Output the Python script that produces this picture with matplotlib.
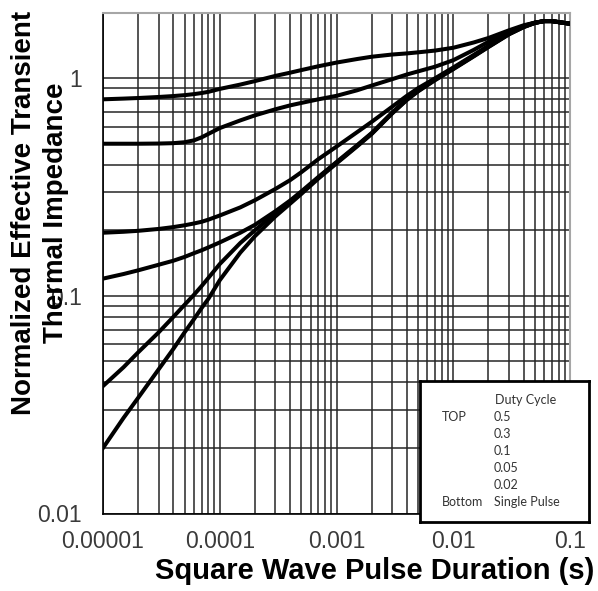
import numpy as np
import matplotlib
matplotlib.use('Agg')
import matplotlib.pyplot as plt
from matplotlib.ticker import LogLocator, NullFormatter

# 数值 (对数坐标)
pulse_t = [1e-5, 1.5e-5, 2e-5, 3e-5, 4e-5, 5e-5, 6e-5, 7e-5, 8e-5, 1e-4,
           1.5e-4, 2e-4, 3e-4, 4e-4, 5e-4, 7e-4, 1e-3, 1.5e-3, 2e-3, 3e-3,
           4e-3, 5e-3, 7e-3, 1e-2, 1.5e-2, 2e-2, 3e-2, 4e-2, 5e-2, 6e-2,
           7e-2, 8e-2, 1e-1]

zth_d05 = [0.800, 0.806, 0.811, 0.820, 0.828, 0.836, 0.845, 0.855, 0.866, 0.893,
           0.935, 0.970, 1.025, 1.060, 1.090, 1.135, 1.180, 1.225, 1.255, 1.285,
           1.300, 1.315, 1.340, 1.380, 1.460, 1.530, 1.660, 1.750, 1.800, 1.830,
           1.830, 1.810, 1.780]
zth_d03 = [0.500, 0.500, 0.500, 0.501, 0.503, 0.508, 0.518, 0.535, 0.555, 0.590,
           0.640, 0.675, 0.720, 0.750, 0.770, 0.800, 0.830, 0.880, 0.925, 0.990,
           1.040, 1.075, 1.130, 1.210, 1.350, 1.470, 1.630, 1.740, 1.800, 1.830,
           1.830, 1.810, 1.780]
zth_d01 = [0.195, 0.197, 0.199, 0.203, 0.207, 0.211, 0.215, 0.219, 0.224, 0.234,
           0.255, 0.275, 0.310, 0.340, 0.370, 0.425, 0.485, 0.565, 0.630, 0.740,
           0.830, 0.900, 1.000, 1.120, 1.280, 1.410, 1.610, 1.730, 1.800, 1.830,
           1.830, 1.810, 1.780]
zth_d005 = [0.120, 0.126, 0.131, 0.139, 0.145, 0.151, 0.157, 0.162, 0.167, 0.176,
            0.195, 0.212, 0.245, 0.274, 0.302, 0.352, 0.412, 0.492, 0.560, 0.695,
            0.800, 0.880, 0.990, 1.110, 1.270, 1.400, 1.600, 1.720, 1.795, 1.830,
            1.830, 1.810, 1.780]
zth_d002 = [0.0385, 0.047, 0.055, 0.068, 0.080, 0.091, 0.101, 0.111, 0.121, 0.140,
            0.175, 0.200, 0.240, 0.270, 0.298, 0.349, 0.409, 0.489, 0.557, 0.692,
            0.797, 0.875, 0.985, 1.105, 1.265, 1.395, 1.595, 1.720, 1.795, 1.830,
            1.830, 1.810, 1.780]
zth_single = [0.020, 0.0275, 0.034, 0.046, 0.057, 0.068, 0.078, 0.088, 0.097, 0.118,
              0.158, 0.188, 0.232, 0.265, 0.294, 0.346, 0.406, 0.486, 0.554, 0.689,
              0.794, 0.870, 0.980, 1.100, 1.260, 1.390, 1.590, 1.715, 1.795, 1.830,
              1.830, 1.810, 1.780]
curves = [zth_d05, zth_d03, zth_d01, zth_d005, zth_d002, zth_single]

x_ticks = [1e-5, 1e-4, 1e-3, 1e-2, 1e-1]
x_labels = ['0.00001', '0.0001', '0.001', '0.01', '0.1']
y_ticks = [0.01, 0.1, 1]
y_labels = ['0.01', '0.1', '1']

legend_head = 'Duty Cycle'
legend_left = ['TOP', '', '', '', '', 'Bottom']
legend_right = ['0.5', '0.3', '0.1', '0.05', '0.02', 'Single Pulse']

W, H = 598, 591
plt.rcParams['font.family'] = ['Liberation Sans', 'DejaVu Sans']

fig = plt.figure(figsize=(W / 100, H / 100), dpi=100)
ax = fig.add_axes([103 / W, 1 - 513.5 / H, 467 / W, 500.8 / H])

for z in curves:
    ax.plot(pulse_t, z, color='black', lw=2.9, solid_joinstyle='round', zorder=3)

ax.set_xscale('log')
ax.set_yscale('log')
ax.set_xlim(1e-5, 0.1)
ax.set_ylim(0.01, 2)

ax.set_xticks(x_ticks, x_labels)
ax.set_yticks(y_ticks, y_labels)
ax.xaxis.set_minor_locator(LogLocator(10, subs=np.arange(2, 10), numticks=50))
ax.yaxis.set_minor_locator(LogLocator(10, subs=np.arange(2, 10), numticks=50))
ax.xaxis.set_minor_formatter(NullFormatter())
ax.yaxis.set_minor_formatter(NullFormatter())
ax.grid(which='both', color='#262626', lw=1.1)
ax.tick_params(which='both', length=0, labelsize=16.5, labelcolor='#3a3a3a')
ax.tick_params(axis='x', pad=12)
ax.tick_params(axis='y', pad=15)

for s in ['top', 'right']:
    ax.spines[s].set_color('#a6a6a6')
    ax.spines[s].set_linewidth(1.5)
for s in ['left', 'bottom']:
    ax.spines[s].set_color('black')
    ax.spines[s].set_linewidth(1.2)

# 坐标轴标题
fig.text(40 / W, 1 - 213 / H, 'Normalized Effective Transient\nThermal Impedance',
         rotation=90, ha='center', va='center', multialignment='center',
         fontsize=20, fontweight='bold', linespacing=1.3)
fig.text(375 / W, 1 - 571 / H, 'Square Wave Pulse Duration (s)',
         ha='center', va='center', fontsize=21, fontweight='bold')

# 图例方框
lax = fig.add_axes([420 / W, 1 - 522 / H, 169 / W, 141 / H])
lax.set_xticks([])
lax.set_yticks([])
for s in lax.spines.values():
    s.set_linewidth(2)
    s.set_color('black')

fig.text(495 / W, 1 - 400 / H, legend_head, ha='left', va='center',
         fontsize=9, color='#333333', family=['Lato', 'DejaVu Sans'])
for i, (l, r) in enumerate(zip(legend_left, legend_right)):
    yy = 1 - (417 + 17 * i) / H
    fig.text(442 / W, yy, l, ha='left', va='center', fontsize=9,
             color='#333333', family=['Lato', 'DejaVu Sans'])
    fig.text(494 / W, yy, r, ha='left', va='center', fontsize=9,
             color='#333333', family=['Lato', 'DejaVu Sans'])

fig.savefig('out.png', dpi=100)
